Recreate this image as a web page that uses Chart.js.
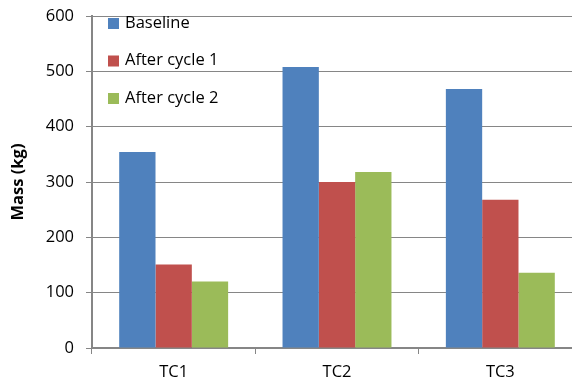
<!DOCTYPE html>
<html>
<head>
<meta charset="utf-8">
<script src="https://cdn.jsdelivr.net/npm/chart.js@4/dist/chart.umd.min.js"></script>
<style>
  html, body { margin: 0; padding: 0; overflow: hidden; background: #fff; }
  canvas { display: block; }
</style>
</head>
<body>
<canvas id="massa" width="582" height="386"></canvas>
<script>
// dados
var categorias = ["TC1", "TC2", "TC3"];
var series = ["Baseline", "After cycle 1", "After cycle 2"];
var baseline = [354, 508, 468];
var ciclo1 = [151, 300, 268];
var ciclo2 = [120, 318, 136];
var marcasY = [0, 100, 200, 300, 400, 500, 600];

var cores = ["#4F81BD", "#C0504D", "#9BBB59"];
var fonte = "'Open Sans', 'Noto Sans', sans-serif";

// legenda dentro da area do grafico, canto superior esquerdo
var legendaInterna = {
  id: "legendaInterna",
  afterDraw: function (chart) {
    var ctx = chart.ctx;
    var area = chart.chartArea;
    ctx.save();
    ctx.font = "16.5px " + fonte;
    ctx.textBaseline = "middle";
    ctx.textAlign = "left";
    chart.data.datasets.forEach(function (ds, i) {
      var y = area.top + 7 + i * 37.5;
      ctx.fillStyle = ds.backgroundColor;
      ctx.fillRect(area.left + 16, y - 5, 11, 11);
      ctx.fillStyle = "#000";
      ctx.fillText(ds.label, area.left + 33, y);
    });
    ctx.restore();
  }
};

var ctx = document.getElementById("massa");
var myChart = new Chart(ctx, {
  type: "bar",
  data: {
    labels: categorias,
    datasets: [
      { label: series[0], data: baseline, backgroundColor: cores[0] },
      { label: series[1], data: ciclo1, backgroundColor: cores[1] },
      { label: series[2], data: ciclo2, backgroundColor: cores[2] }
    ]
  },
  options: {
    responsive: false,
    animation: false,
    layout: { padding: { top: 16, left: 0, right: 0, bottom: 0 } },
    datasets: { bar: { categoryPercentage: 0.667, barPercentage: 1.0, borderWidth: 0 } },
    plugins: { legend: { display: false }, tooltip: { enabled: false } },
    scales: {
      x: {
        grid: { offset: true, drawOnChartArea: false, drawTicks: true, tickLength: 6, color: "#868686", lineWidth: 1 },
        border: { color: "#868686", width: 2 },
        ticks: { color: "#000", font: { family: fonte, size: 16.5 }, padding: 8 },
        afterFit: function (scale) { scale.height = 38; }
      },
      y: {
        min: 0,
        max: 600,
        afterBuildTicks: function (scale) {
          scale.ticks = marcasY.map(function (v) { return { value: v }; });
        },
        grid: { color: "#868686", lineWidth: 1, tickLength: 6 },
        border: { color: "#868686", width: 2 },
        ticks: { color: "#000", font: { family: fonte, size: 16.5 }, padding: 12 },
        title: { display: true, text: "Mass (kg)", color: "#000", font: { family: fonte, size: 16.5, weight: "bold" }, padding: { top: 8, bottom: 0 } },
        afterFit: function (scale) {
          scale.width = 92;
          scale.paddingTop = 0;
          scale.paddingBottom = 0;
        }
      }
    }
  },
  plugins: [legendaInterna]
});
</script>
</body>
</html>
